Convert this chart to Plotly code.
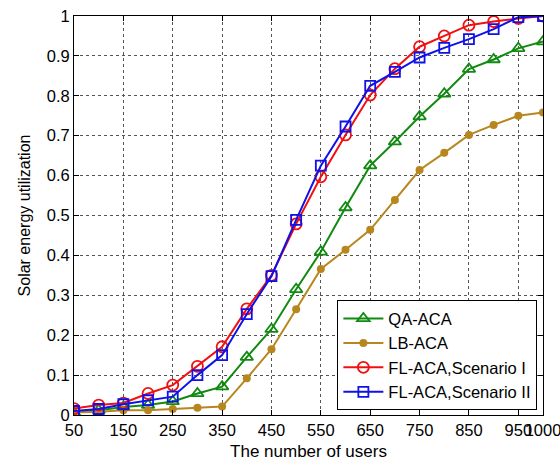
import plotly.graph_objects as go

users = [50, 100, 150, 200, 250, 300, 350, 400, 450, 500, 550, 600, 650, 700, 750, 800, 850, 900, 950, 1000]
qa_aca = [0.006, 0.012, 0.020, 0.025, 0.034, 0.054, 0.071, 0.145, 0.215, 0.315, 0.409, 0.520, 0.625, 0.685, 0.748, 0.805, 0.867, 0.891, 0.919, 0.936]
lb_aca = [0.006, 0.008, 0.012, 0.012, 0.015, 0.018, 0.021, 0.092, 0.165, 0.265, 0.366, 0.414, 0.464, 0.539, 0.614, 0.657, 0.702, 0.727, 0.750, 0.758]
fl_s1 = [0.016, 0.025, 0.030, 0.054, 0.075, 0.122, 0.171, 0.266, 0.350, 0.479, 0.597, 0.702, 0.802, 0.868, 0.923, 0.950, 0.977, 0.986, 0.994, 1.000]
fl_s2 = [0.010, 0.015, 0.027, 0.037, 0.046, 0.100, 0.150, 0.253, 0.348, 0.489, 0.625, 0.723, 0.825, 0.860, 0.896, 0.920, 0.942, 0.967, 0.997, 1.000]
xtick_vals = [50, 150, 250, 350, 450, 550, 650, 750, 850, 950, 1000]
xtick_text = ["50", "150", "250", "350", "450", "550", "650", "750", "850", "950", "1000"]
ytick_vals = [0, 0.1, 0.2, 0.3, 0.4, 0.5, 0.6, 0.7, 0.8, 0.9, 1]
ytick_text = ["0", "0.1", "0.2", "0.3", "0.4", "0.5", "0.6", "0.7", "0.8", "0.9", "1"]

FONT = "Liberation Sans, Arial"

fig = go.Figure()
fig.add_trace(go.Scatter(x=users, y=qa_aca, name="QA-ACA", mode="lines+markers",
                         line=dict(color="#108A10", width=2),
                         marker=dict(symbol="triangle-up-open", size=11, color="#108A10", line=dict(width=1.8))))
fig.add_trace(go.Scatter(x=users, y=lb_aca, name="LB-ACA", mode="lines+markers",
                         line=dict(color="#B8861E", width=2),
                         marker=dict(symbol="circle", size=8, color="#B8861E")))
fig.add_trace(go.Scatter(x=users, y=fl_s1, name="FL-ACA,Scenario I", mode="lines+markers",
                         line=dict(color="#F01010", width=2),
                         marker=dict(symbol="circle-open", size=11, color="#F01010", line=dict(width=1.8))))
fig.add_trace(go.Scatter(x=users, y=fl_s2, name="FL-ACA,Scenario II", mode="lines+markers",
                         line=dict(color="#1010E8", width=2),
                         marker=dict(symbol="square-open", size=10, color="#1010E8", line=dict(width=1.8))))

axis_common = dict(showline=True, linecolor="black", linewidth=1, mirror="ticks",
                   ticks="inside", ticklen=5, tickcolor="black",
                   showgrid=True, gridcolor="#555555", griddash="dot", gridwidth=1,
                   zeroline=False, ticklabeloverflow="allow", automargin=False,
                   tickangle=0,
                   tickfont=dict(family=FONT, size=16.5, color="black"))

fig.update_xaxes(range=[50, 1000], tickvals=xtick_vals, ticktext=xtick_text,
                 ticklabelstandoff=0,
                 title=dict(text="The number of users", font=dict(family=FONT, size=17, color="black"), standoff=11),
                 **axis_common)
fig.update_yaxes(range=[0, 1], tickvals=ytick_vals, ticktext=ytick_text,
                 title=dict(text="Solar energy utilization", font=dict(family=FONT, size=16, color="black"), standoff=12),
                 **axis_common)

fig.update_layout(
    width=560, height=461,
    margin=dict(l=74, r=17, t=16, b=46),
    plot_bgcolor="white", paper_bgcolor="white",
    font=dict(family=FONT, color="black"),
    legend=dict(x=0.988, y=0.012, xanchor="right", yanchor="bottom",
                bgcolor="white", bordercolor="black", borderwidth=1,
                font=dict(family=FONT, size=16.5, color="black"),
                itemwidth=40, tracegroupgap=0),
    showlegend=True,
)

fig.write_html("out.html")
